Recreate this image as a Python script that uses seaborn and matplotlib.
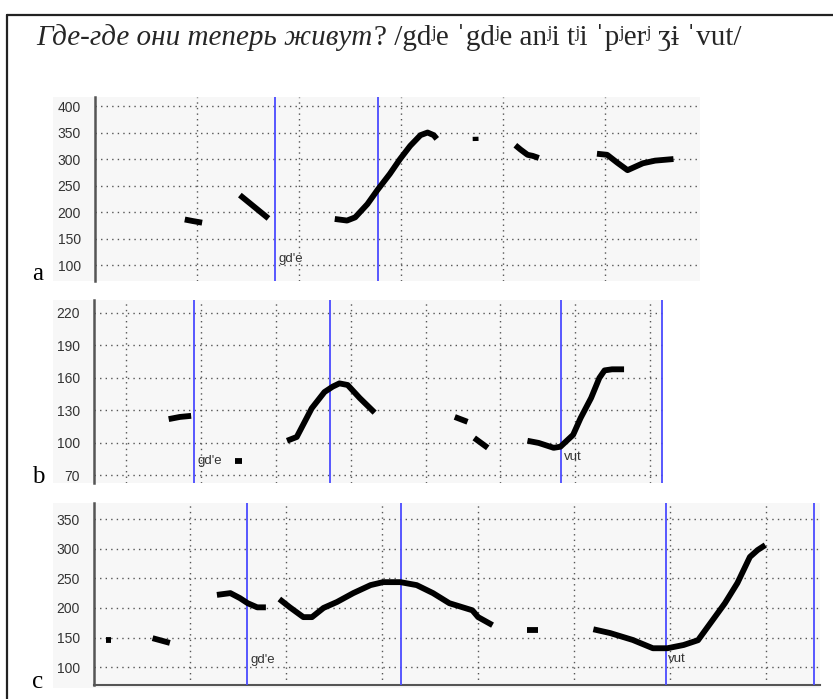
import numpy as np
import pandas as pd
import matplotlib
matplotlib.use("Agg")
import matplotlib.pyplot as plt
import seaborn as sns
from matplotlib.patches import Rectangle
from matplotlib.lines import Line2D

sns.set_theme(style="white")
plt.rcParams['font.family'] = ['Liberation Sans', 'DejaVu Sans']

TITLE_IT = "Где-где они теперь живут"
TITLE_IPA = "? /gdʲe ˈgdʲe anʲi tʲi ˈpʲerʲ ʒɨ ˈvut/"
PANEL_LETTERS = ["a", "b", "c"]

# ---- panel a (time in s, F0 in Hz) ----
A_T = [[0.088, 0.096, 0.105],
       [0.142, 0.156, 0.170],
       [0.235, 0.247, 0.255, 0.267, 0.277, 0.289, 0.299, 0.309, 0.319, 0.326, 0.332, 0.335],
       [0.373, 0.3731],
       [0.412, 0.417, 0.424, 0.429, 0.435],
       [0.492, 0.502, 0.512, 0.522, 0.537, 0.549, 0.567]]
A_HZ = [[186, 183, 180],
        [232, 210, 188],
        [187, 184, 190, 215, 242, 272, 300, 325, 345, 350, 345, 338],
        [342, 334],
        [326, 318, 308, 306, 302],
        [310, 308, 293, 279, 292, 297, 300]]
A_BOUNDS = [0.176, 0.277]
A_LABELS = [("gd'e", 0.180, 111)]
A_YTICKS = [100, 150, 200, 250, 300, 350, 400]

# ---- panel b ----
B_T = [[0.157, 0.172, 0.187],
       [0.245, 0.255],
       [0.315, 0.328, 0.348, 0.365, 0.376, 0.385, 0.396, 0.412, 0.432],
       [0.539, 0.556],
       [0.565, 0.583],
       [0.636, 0.651, 0.671, 0.680, 0.697, 0.707, 0.721, 0.732, 0.739, 0.749, 0.765]]
B_HZ = [[122, 124, 125],
        [83, 83],
        [102, 105.5, 132, 147, 152, 155, 153.5, 141.5, 128],
        [124, 119.5],
        [104.6, 95.5],
        [102, 100, 95.5, 96.5, 107.5, 123, 141.5, 160, 167, 168, 168]]
B_BOUNDS = [0.191, 0.373, 0.681, 0.815]
B_LABELS = [("gd'e", 0.195, 83), ("vut", 0.685, 87)]
B_YTICKS = [70, 100, 130, 160, 190, 220]

# ---- panel c ----
C_T = [[0.013, 0.018],
       [0.061, 0.070, 0.079],
       [0.128, 0.142, 0.152, 0.160, 0.170, 0.179],
       [0.193, 0.204, 0.218, 0.227, 0.239, 0.253, 0.270, 0.288, 0.301, 0.319, 0.336, 0.353, 0.370, 0.394, 0.400, 0.415],
       [0.451, 0.462],
       [0.520, 0.5375, 0.561, 0.582, 0.597, 0.614, 0.629, 0.644, 0.657, 0.670, 0.683, 0.691, 0.699]]
C_HZ = [[146, 146],
        [149, 145, 141],
        [222, 225, 216.5, 208, 201, 201],
        [215, 201, 184.5, 184.5, 200, 210, 225, 238.5, 243.5, 243.5, 238.5, 225, 208, 196, 184.5, 171],
        [162.5, 162.5],
        [164, 157.6, 146, 132, 132, 137.5, 145.6, 179, 208, 242, 286, 297.6, 306]]
C_BOUNDS = [0.159, 0.320, 0.596, 0.750]
C_LABELS = [("gd'e", 0.1625, 112), ("vut", 0.598, 114)]
C_YTICKS = [100, 150, 200, 250, 300, 350]

W, H = 833, 699
fig = plt.figure(figsize=(W / 100, H / 100), dpi=100)

def fx(px): return px / W
def fy(py): return 1 - py / H

panels = [
    dict(T=A_T, HZ=A_HZ, bounds=A_BOUNDS, labels=A_LABELS, yticks=A_YTICKS,
         box=(95, 700, 97, 281), bg=(53, 700, 97, 281), xlim=(0, 0.593), ylim=(70, 417),
         xgrid=[0.1, 0.2, 0.3, 0.4, 0.5], bottom=False, letter_y=280),
    dict(T=B_T, HZ=B_HZ, bounds=B_BOUNDS, labels=B_LABELS, yticks=B_YTICKS,
         box=(94, 663, 300, 483), bg=(53, 663, 300, 483), xlim=(0.0573, 0.817), ylim=(63, 232),
         xgrid=[0.1, 0.2, 0.3, 0.4, 0.5, 0.6, 0.7, 0.8], bottom=False, letter_y=483),
    dict(T=C_T, HZ=C_HZ, bounds=C_BOUNDS, labels=C_LABELS, yticks=C_YTICKS,
         box=(94, 820, 503, 685), bg=(53, 820, 503, 688), xlim=(0, 0.756), ylim=(70, 377),
         xgrid=[0.1, 0.2, 0.3, 0.4, 0.5, 0.6, 0.7], bottom=True, letter_y=688),
]

BG = "#f7f7f7"
for i, p in enumerate(panels):
    x0, x1, y0, y1 = p["bg"]
    fig.patches.append(Rectangle((fx(x0), fy(y1)), fx(x1) - fx(x0), fy(y0) - fy(y1),
                                 transform=fig.transFigure, facecolor=BG, edgecolor="none", zorder=-10))
    l, r, t, b = p["box"]
    ax = fig.add_axes([fx(l), fy(b), fx(r) - fx(l), fy(t) - fy(b)], zorder=1)
    ax.set_facecolor(BG)
    rows = []
    for k, (ts, hs) in enumerate(zip(p["T"], p["HZ"])):
        for tt, hh in zip(ts, hs):
            rows.append(dict(t=tt, hz=hh, seg=k))
    df = pd.DataFrame(rows)
    sns.lineplot(data=df, x="t", y="hz", units="seg", estimator=None, color="black",
                 lw=4.2, ax=ax, legend=False, solid_capstyle="butt", zorder=4)
    for bx in p["bounds"]:
        ax.axvline(bx, color="#4b4bff", lw=1.3, zorder=3)
    for txt, tx, ty in p["labels"]:
        ax.text(tx, ty, txt, fontsize=9.5, color="#333333", va="center", ha="left", zorder=5)
    ax.set_xlim(*p["xlim"])
    ax.set_ylim(*p["ylim"])
    ax.set_yticks(p["yticks"])
    ax.set_xticks(p["xgrid"])
    ax.set_xticklabels([])
    ax.set_xlabel("")
    ax.set_ylabel("")
    ax.tick_params(axis="both", length=0, labelsize=10, labelcolor="#333333", pad=10)
    ax.grid(True, linestyle=(0, (1, 3)), color="#555555", lw=1.0)
    for s in ["top", "right"]:
        ax.spines[s].set_visible(False)
    ax.spines["bottom"].set_visible(p["bottom"])
    ax.spines["bottom"].set_color("#555555")
    ax.spines["bottom"].set_linewidth(1.5)
    ax.spines["left"].set_color("#555555")
    ax.spines["left"].set_linewidth(1.8)
    fig.text(fx(32), fy(p["letter_y"]), PANEL_LETTERS[i], fontsize=18,
             family=["Liberation Serif", "DejaVu Serif"], color="black", va="baseline")

# frame (top and left lines)
fig.add_artist(Line2D([fx(7), 1.0], [fy(15), fy(15)], transform=fig.transFigure, color="#222222", lw=1.6))
fig.add_artist(Line2D([fx(7), fx(7)], [fy(15), 0.0], transform=fig.transFigure, color="#222222", lw=1.6))

# title: italic Russian part, then upright IPA part
t1 = fig.text(fx(36), fy(45), TITLE_IT, fontsize=21, style="italic",
              family=["Liberation Serif", "DejaVu Serif"], va="baseline", ha="left")
renderer = fig.canvas.get_renderer()
bb = t1.get_window_extent(renderer=renderer)
fig.text(bb.x1 / fig.bbox.width + 0.002, fy(45), TITLE_IPA, fontsize=21,
         family=["Liberation Serif", "DejaVu Serif"], va="baseline", ha="left")

fig.savefig("out.png", dpi=100)
